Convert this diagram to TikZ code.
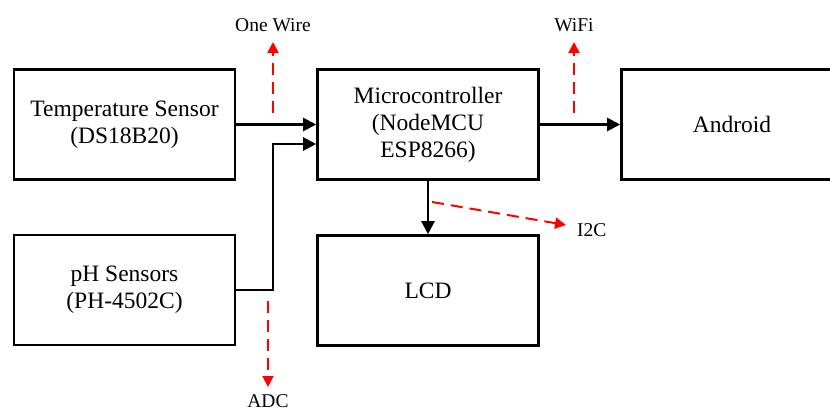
\documentclass[tikz,border=0pt]{standalone}
\usepackage{fontspec}
\setmainfont{Liberation Serif}
\usetikzlibrary{arrows.meta}
\begin{document}
\begin{tikzpicture}[x=1pt,y=-1pt,
  blockbox/.style={draw=black, line width=2.6pt, minimum width=221pt, minimum height=110pt,
    inner sep=0pt, align=center, font=\fontsize{23.5}{27}\selectfont},
  conn/.style={line width=2.2pt, -{Triangle[length=13pt,width=13pt]}},
  bus/.style={red, line width=2pt, dash pattern=on 12pt off 7pt, -{Triangle[length=11pt,width=11pt]}},
  lbl/.style={font=\fontsize{19.5}{21}\selectfont, inner sep=0pt}]
\useasboundingbox (0,0) rectangle (830,410);
\clip (0,0) rectangle (830,410);
\fill[white] (0,0) rectangle (830,410);
% blocks
\node[blockbox] (temp) at (124.5,124.5) {Temperature Sensor\\(DS18B20)};
\node[blockbox] (mcu) at (428,124.5) {Microcontroller\\(NodeMCU\\ESP8266)};
\node[blockbox] (android) at (732,124.5) {Android};
\node[blockbox] (ph) at (124.5,290) {pH Sensors\\(PH-4502C)};
\node[blockbox] (lcd) at (428,290.5) {LCD};
% labels
\node[lbl] (lone) at (273,25) {One Wire};
\node[lbl] (lwifi) at (574,25) {WiFi};
\node[lbl] (ladc) at (268,401) {ADC};
\node[lbl,anchor=west] (li2c) at (577,230) {I2C};
% connectors
\coordinate (j) at (273,144);
\draw[conn] (temp) -- (mcu);
\draw[conn] (ph.east) -| (j) -- (j -| mcu.west);
\draw[conn] (mcu) -- (android);
\draw[conn] (mcu) -- (lcd);
% bus arrows
\coordinate (ow1) at (273,113);
\coordinate (ow2) at (273,42);
\coordinate (wf1) at (574,113);
\coordinate (wf2) at (574,42);
\coordinate (ad1) at (268,301);
\coordinate (ad2) at (268,387);
\coordinate (ic1) at (432,202);
\coordinate (ic2) at (566,225);
\draw[bus] (ow1) -- (ow2);
\draw[bus] (wf1) -- (wf2);
\draw[bus] (ad1) -- (ad2);
\draw[bus] (ic1) -- (ic2);
\end{tikzpicture}
\end{document}
